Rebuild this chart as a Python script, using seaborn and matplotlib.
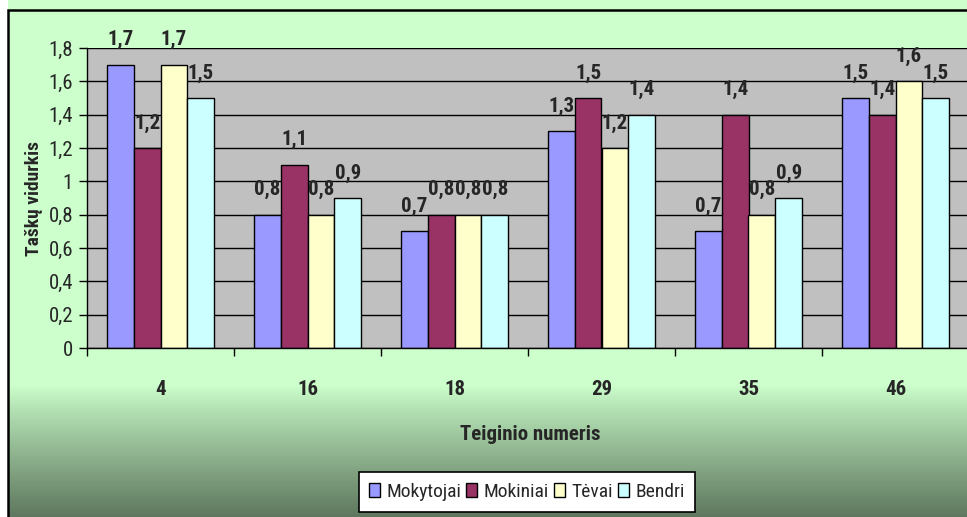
import matplotlib
matplotlib.use('Agg')
import matplotlib.pyplot as plt
import seaborn as sns
import pandas as pd
import numpy as np
from matplotlib.ticker import FuncFormatter, FixedLocator
from matplotlib.patches import Rectangle

teiginiai = ['4', '16', '18', '29', '35', '46']
grupes = ['Mokytojai', 'Mokiniai', 'Tėvai', 'Bendri']
mokytojai = [1.7, 0.8, 0.7, 1.3, 0.7, 1.5]
mokiniai = [1.2, 1.1, 0.8, 1.5, 1.4, 1.4]
tevai = [1.7, 0.8, 0.8, 1.2, 0.8, 1.6]
bendri = [1.5, 0.9, 0.8, 1.4, 0.9, 1.5]
spalvos = ['#9999FF', '#993366', '#FFFFCC', '#CCFFFF']

reiksmes = [mokytojai, mokiniai, tevai, bendri]
df = pd.DataFrame({
    'Teiginys': teiginiai * len(grupes),
    'Grupe': [g for g in grupes for _ in teiginiai],
    'Vidurkis': [v for r in reiksmes for v in r],
})

sns.set_style('white')
plt.rcParams['font.family'] = ['Roboto Condensed', 'Liberation Sans', 'DejaVu Sans']


def kablelis(v, p=None):
    if abs(v - round(v)) < 1e-6:
        return str(int(round(v)))
    return f"{v:.1f}".replace('.', ',')


W, H = 967, 517
fig = plt.figure(figsize=(W / 100, H / 100), dpi=100)
fig.patch.set_facecolor('white')

# fonas su gradientu
bg = fig.add_axes([0, 0, 1, 1], zorder=-10)
bg.axis('off')
ys = np.arange(H)
t = np.clip((ys - 385) / (H - 385), 0, 1) ** 0.9
top = np.array([0xCC, 0xFF, 0xCC]) / 255
bot = np.array([0x5E, 0x77, 0x5E]) / 255
grad = top + (bot - top) * t[:, None]
bg.imshow(grad[:, None, :], aspect='auto', extent=[8 / W, 1.01, 0, 1])
bg.add_patch(Rectangle((8 / W, -0.01), 1.0, 1 - 10 / H + 0.01, fill=False,
                       edgecolor='black', linewidth=1.8))
bg.set_xlim(0, 1)
bg.set_ylim(0, 1)

ax = fig.add_axes([87 / W, 1 - 348 / H, (969 - 87) / W, 300 / H])
ax.set_facecolor('#C0C0C0')
sns.barplot(data=df, x='Teiginys', y='Vidurkis', hue='Grupe', palette=spalvos,
            saturation=1, width=0.73, edgecolor='black', linewidth=1, ax=ax)

ax.set_ylim(0, 1.8)
ax.set_xlim(-0.5, 5.5)
ax.set_yticks(np.arange(0, 1.81, 0.2))
ax.yaxis.set_major_formatter(FuncFormatter(kablelis))
ax.yaxis.grid(True, color='black', linewidth=1)
ax.set_axisbelow(True)
for s in ['top', 'right']:
    ax.spines[s].set_visible(False)
for s in ['left', 'bottom']:
    ax.spines[s].set_color('black')
    ax.spines[s].set_linewidth(1)

ax.tick_params(axis='y', length=6, width=1, color='black', direction='out', pad=4, labelsize=15, left=True)
ax.tick_params(axis='x', which='major', length=0, pad=23, labelsize=15)
ax.xaxis.set_minor_locator(FixedLocator(np.arange(-0.5, 5.6, 1)))
ax.tick_params(axis='x', which='minor', length=6, width=1, color='black', direction='out', bottom=True)
for lbl in ax.get_xticklabels():
    lbl.set_fontweight('bold')

for cont in ax.containers:
    vals = [b.get_height() for b in cont]
    ax.bar_label(cont, labels=[kablelis(v) for v in vals],
                 padding=11, fontsize=15, fontweight='bold')

ax.set_xlabel('Teiginio numeris', fontsize=15, fontweight='bold')
ax.xaxis.set_label_coords(0.502, -0.258)
ax.set_ylabel('Taškų vidurkis', fontsize=14, fontweight='bold')
ax.yaxis.set_label_coords(-0.05, 0.5)

ax.legend(loc='center', bbox_to_anchor=(527 / W, 1 - 492 / H), bbox_transform=fig.transFigure,
          ncol=4, frameon=True, fancybox=False, edgecolor='black', facecolor='white',
          framealpha=1, fontsize=14, handlelength=0.55, handleheight=0.75,
          handletextpad=0.35, columnspacing=0.25, borderpad=0.55, title=None)
ax.get_legend().get_frame().set_linewidth(1.2)

fig.savefig('out.png', dpi=100)
